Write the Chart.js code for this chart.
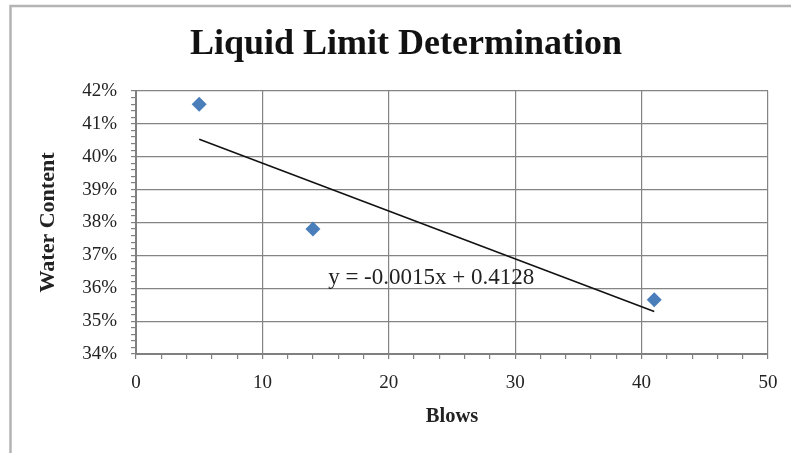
<!DOCTYPE html>
<html>
<head>
<meta charset="utf-8">
<title>Liquid Limit Determination</title>
<script src="https://cdn.jsdelivr.net/npm/chart.js@4.4.1/dist/chart.umd.min.js"></script>
<style>
  html, body { margin: 0; padding: 0; background: #fff; overflow: hidden; }
  canvas { display: block; }
</style>
</head>
<body>
<canvas id="grafica" width="791" height="453"></canvas>
<script>
// datos
var blows = [5, 14, 41];
var waterContent = [0.416, 0.378, 0.3565];
var xTicks = [0, 10, 20, 30, 40, 50];
var yTicks = ['34%', '35%', '36%', '37%', '38%', '39%', '40%', '41%', '42%'];
var ecuacion = 'y = -0.0015x + 0.4128';

// recta de tendencia (minimos cuadrados sobre los puntos)
function tendencia(xs, ys) {
    var n = xs.length, mx = 0, my = 0, sxx = 0, sxy = 0;
    for (var i = 0; i < n; i++) { mx += xs[i] / n; my += ys[i] / n; }
    for (var j = 0; j < n; j++) {
        sxx += (xs[j] - mx) * (xs[j] - mx);
        sxy += (xs[j] - mx) * (ys[j] - my);
    }
    var m = sxy / sxx, b = my - m * mx;
    var x0 = Math.min.apply(null, xs), x1 = Math.max.apply(null, xs);
    return [{x: x0, y: m * x0 + b}, {x: x1, y: m * x1 + b}];
}

var puntos = blows.map(function (x, i) { return {x: x, y: waterContent[i]}; });
var serif = "'Liberation Serif', 'Times New Roman', serif";

var marco = {
    id: 'marco',
    beforeDraw: function (chart) {
        var ctx = chart.ctx;
        ctx.save();
        ctx.fillStyle = '#fff';
        ctx.fillRect(0, 0, chart.width, chart.height);
        ctx.strokeStyle = '#b4b4b4';
        ctx.lineWidth = 2.5;
        ctx.strokeRect(10.5, 6, chart.width + 20, chart.height + 20);
        ctx.restore();
    }
};

var etiqueta = {
    id: 'etiqueta',
    afterDatasetsDraw: function (chart) {
        var ctx = chart.ctx, sx = chart.scales.x, sy = chart.scales.y;
        ctx.save();
        ctx.font = "23px " + serif;
        ctx.fillStyle = '#222';
        ctx.textBaseline = 'middle';
        ctx.fillText(ecuacion, sx.getPixelForValue(15.2), sy.getPixelForValue(0.3632));
        ctx.restore();
    }
};

var gra = document.getElementById('grafica').getContext('2d');
var chart = new Chart(gra, {
    type: 'scatter',
    data: {
        datasets: [
            {
                label: 'Water Content',
                data: puntos,
                pointStyle: 'rectRot',
                pointRadius: 7.5,
                backgroundColor: '#4a7ebb',
                borderColor: '#4a7ebb',
                borderWidth: 0,
                order: 0
            },
            {
                label: 'Linear',
                type: 'line',
                data: tendencia(blows, waterContent),
                borderColor: '#111',
                borderWidth: 1.5,
                pointRadius: 0,
                fill: false,
                order: 1
            }
        ]
    },
    options: {
        responsive: false,
        animation: false,
        devicePixelRatio: 1,
        layout: { padding: { left: 44, right: 23, top: 6, bottom: 0 } },
        plugins: {
            legend: { display: false },
            tooltip: { enabled: false },
            title: {
                display: true,
                text: 'Liquid Limit Determination',
                color: '#111',
                font: { family: serif, size: 36, weight: 'bold' },
                padding: { top: 17, bottom: 24.8 }
            }
        },
        scales: {
            x: {
                type: 'linear',
                min: 0,
                max: 50,
                afterFit: function (s) { s.height = 99; },
                ticks: {
                    stepSize: 2,
                    autoSkip: false,
                    maxRotation: 0,
                    padding: 13,
                    color: '#222',
                    font: { family: serif, size: 19 },
                    callback: function (v) {
                        var i = xTicks.indexOf(Math.round(v));
                        return (i >= 0 && Math.abs(v - Math.round(v)) < 1e-6) ? String(xTicks[i]) : '';
                    }
                },
                grid: {
                    drawOnChartArea: true,
                    color: function (c) { return (Math.round(c.tick.value) % 10 === 0) ? '#848484' : 'rgba(0,0,0,0)'; },
                    tickColor: '#808080',
                    tickLength: 5,
                    lineWidth: 1.2
                },
                border: { color: '#808080', width: 2 },
                title: {
                    display: true,
                    text: 'Blows',
                    color: '#222',
                    font: { family: serif, size: 20.5, weight: 'bold' },
                    padding: { top: 0, bottom: 24 }
                }
            },
            y: {
                type: 'linear',
                min: 0.34,
                max: 0.42,
                afterFit: function (s) { s.width = 92; },
                ticks: {
                    stepSize: 0.002,
                    autoSkip: false,
                    padding: 14,
                    color: '#222',
                    font: { family: serif, size: 19 },
                    callback: function (v) {
                        var k = Math.round(v * 1000);
                        if (k % 10 !== 0) return '';
                        var i = k / 10 - 34;
                        return yTicks[i] || '';
                    }
                },
                grid: {
                    color: function (c) { return (Math.round(c.tick.value * 1000) % 10 === 0) ? '#848484' : 'rgba(0,0,0,0)'; },
                    tickColor: '#808080',
                    tickLength: 5,
                    lineWidth: 1.2
                },
                border: { color: '#808080', width: 2 },
                title: {
                    display: true,
                    text: 'Water Content',
                    color: '#222',
                    font: { family: serif, size: 22, weight: 'bold' },
                    padding: { top: -9.2, bottom: 0 }
                }
            }
        }
    },
    plugins: [marco, etiqueta]
});
</script>
</body>
</html>
